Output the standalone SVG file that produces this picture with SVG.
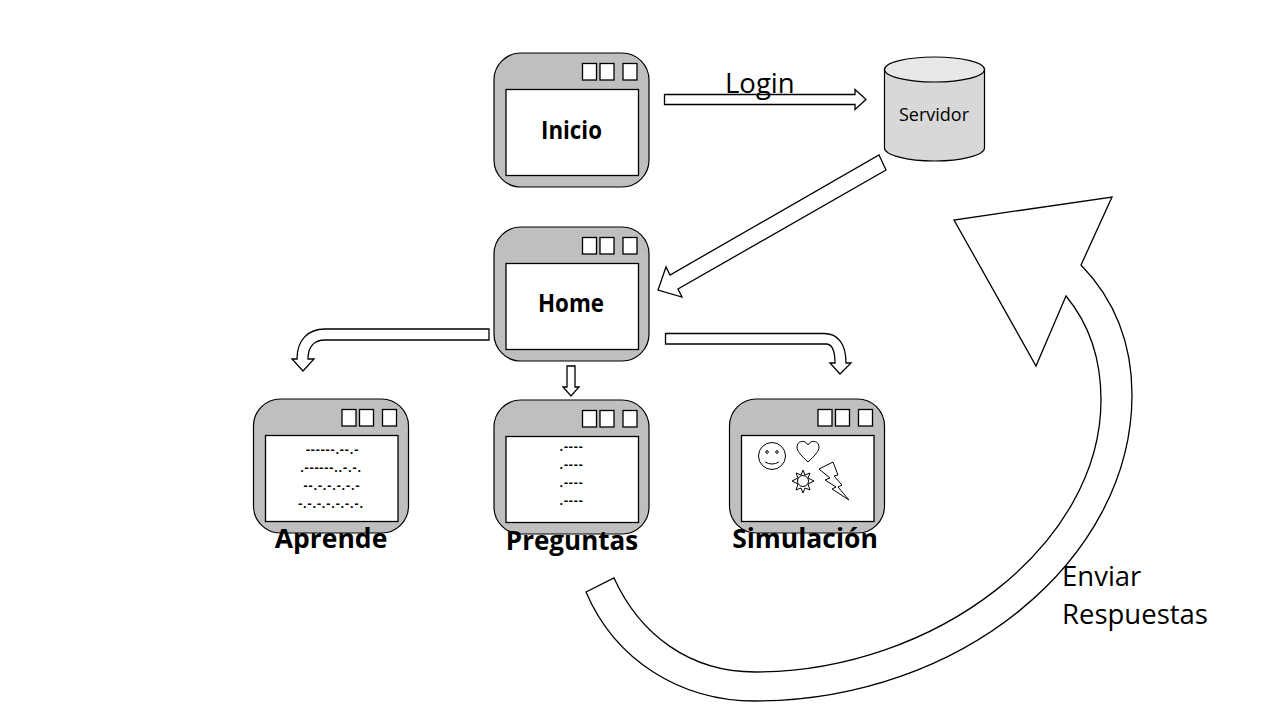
<svg xmlns="http://www.w3.org/2000/svg" width="1280" height="720" viewBox="0 0 1280 720">
<style>
text{font-family:"Open Sans","Noto Sans","Liberation Sans",sans-serif;fill:#000}
.frame{fill:url(#g1);stroke:#000;stroke-width:1.2}
.box{fill:#fff;stroke:#000;stroke-width:1.3}
.arrow{fill:#fff;stroke:#000;stroke-width:1.3;stroke-linejoin:miter}
.t{font-weight:700;text-anchor:middle}
.big{font-size:27.500px}
.lab{font-size:26.500px;font-weight:700;text-anchor:middle}
.m{font-size:12.500px;font-weight:700;text-anchor:middle;letter-spacing:.9px}
.ic{fill:#fff;stroke:#000;stroke-width:1}
</style>
<defs>
<pattern id="g1" width="2" height="2" patternUnits="userSpaceOnUse"><rect width="2" height="2" fill="#bdbdbd"/><rect width="1" height="1" fill="#c4c4c4"/></pattern>
<pattern id="g2" width="2" height="2" patternUnits="userSpaceOnUse"><rect width="2" height="2" fill="#d6d6d6"/><rect width="1" height="1" fill="#dedede"/></pattern>
<pattern id="g3" width="2" height="2" patternUnits="userSpaceOnUse"><rect width="2" height="2" fill="#e6e6e6"/><rect width="1" height="1" fill="#ececec"/></pattern>
<g id="win">
<rect class="frame" x="0" y="0" width="155" height="134" rx="27"/>
<rect class="box" x="12" y="36.500" width="132.500" height="86"/>
<rect class="box" x="88.500" y="10.500" width="14" height="16.500"/>
<rect class="box" x="106" y="10.500" width="14" height="16.500"/>
<rect class="box" x="129" y="10.500" width="14" height="16.500"/>
</g>
</defs>
<rect width="1280" height="720" fill="#fff"/>
<g id="connectors">
<path class="arrow" d="M664.500,94.500H855V89.500L866,99.500L855,109.500V104.500H664.500Z"/>
<path class="arrow" d="M879,155L886,170L678,289L682,297L658,290L666,267L670,275Z"/>
<path class="arrow" d="M489,329V340H325C314,340 308,347 308,359H314L303,371L292,359H297C297,340 308,329 325,329Z"/>
<path class="arrow" d="M665.500,333.500V344H826C832,344 835,350 835,363H830L840,374L851,363H846C846,344 838,333.500 824,333.500Z"/>
<path class="arrow" d="M567,366H575V387H579L571,396L563,387H567Z"/>
<path class="arrow" d="M614,578C640,635 690,672 755,672C935,672 1101,545 1101,400C1101,360 1090,325 1066,296L1036,366L954,220L1112,197L1081,265C1115,300 1132,345 1132,395C1132,560 960,701 755,701C680,701 615,660 586,592Z"/>
</g>
<g id="inicio"><use href="#win" x="494" y="53"/><text class="t" x="571.500" y="139" font-size="25" textLength="61" lengthAdjust="spacingAndGlyphs">Inicio</text></g>
<g id="home"><use href="#win" x="494" y="227"/><text class="t" x="571" y="312" font-size="25" textLength="66" lengthAdjust="spacingAndGlyphs">Home</text></g>
<g id="aprende"><use href="#win" x="253.500" y="399"/>
<text class="m" x="332.500" y="454">------.--.-</text>
<text class="m" x="331" y="472">.------..-.-.</text>
<text class="m" x="332" y="490">--.-.-.-.-.-</text>
<text class="m" x="331" y="508">-.-.-.-.-.-.-.</text>
<text class="lab" x="331" y="548">Aprende</text></g>
<g id="preguntas"><use href="#win" x="494" y="400"/>
<text class="m" x="571.500" y="451">.----</text>
<text class="m" x="571.500" y="469">.----</text>
<text class="m" x="571.500" y="487">.----</text>
<text class="m" x="571.500" y="505">.----</text>
<text class="lab" x="572" y="550" style="font-size:26px">Preguntas</text></g>
<g id="simulacion"><use href="#win" x="729.500" y="399"/>
<g id="smiley"><circle class="ic" cx="772" cy="456" r="13.500"/><circle class="ic" cx="767" cy="452" r="1.300"/><circle class="ic" cx="777" cy="452" r="1.300"/><path class="ic" style="fill:none" d="M765,462Q772,466 779,462"/></g>
<path id="heart" class="ic" d="M808,462C802,456 797,452 797,447C797,441 805,439 808,445C811,439 819,441 819,447C819,452 814,456 808,462Z"/>
<g id="sun"><path class="ic" d="M803,470L805,475L810,473L808,478L814,481L808,484L810,490L805,488L803,493L801,488L796,490L798,484L792,481L798,478L796,473L801,475Z"/><circle class="ic" cx="803" cy="481" r="5.500"/></g>
<path id="bolt" class="ic" d="M819,469L833,462L838,475L834,476L842,485L838,487L849,500L832,489L836,487L825,480L830,478Z"/>
<text class="lab" x="805" y="548">Simulación</text></g>
<g id="servidor">
<path d="M884.500,69V148C884.500,155 907,161 934.500,161C962,161 984.500,155 984.500,148V69Z" fill="url(#g2)" stroke="#000" stroke-width="1.200"/>
<ellipse cx="934.500" cy="69.500" rx="50" ry="12.500" fill="url(#g3)" stroke="#000" stroke-width="1.200"/>
<text x="934" y="121" font-size="18" text-anchor="middle">Servidor</text></g>
<text class="big" x="725" y="93">Login</text>
<text class="big" x="1062" y="586">Enviar</text>
<text class="big" x="1062" y="624">Respuestas</text>
</svg>
